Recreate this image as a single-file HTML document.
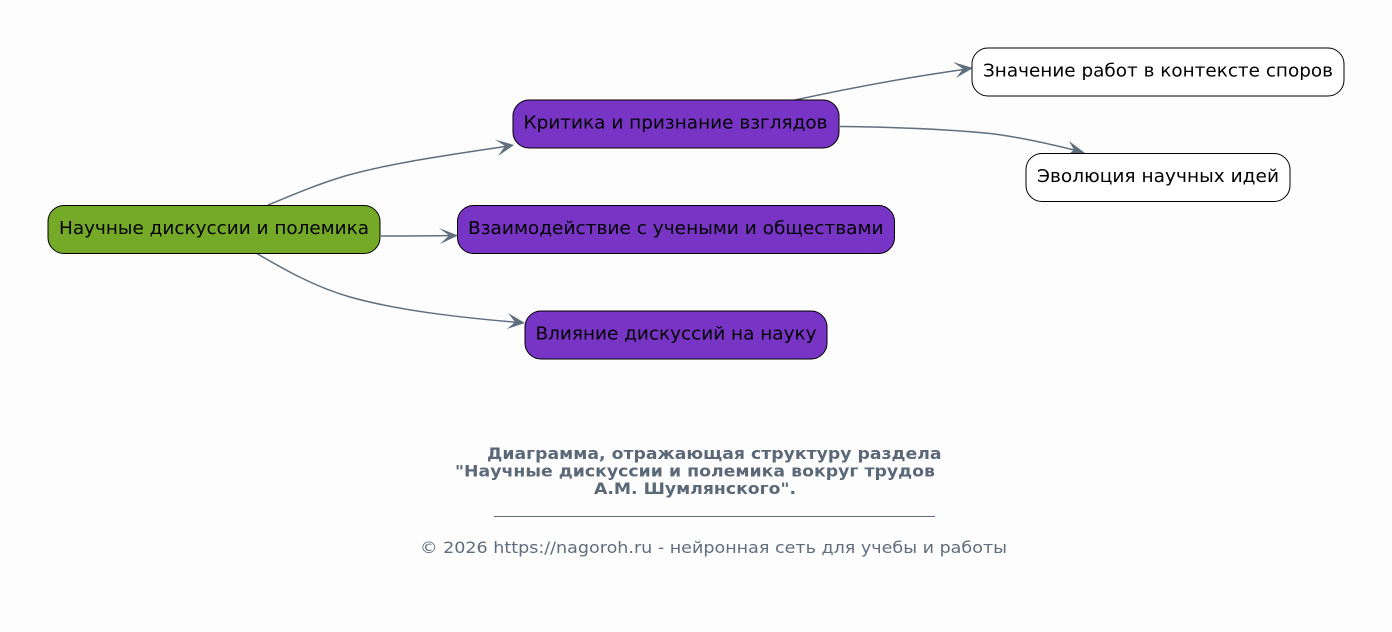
<!DOCTYPE html>
<html><head><meta charset="utf-8">
<style>
html,body{margin:0;padding:0;background:#fdfdfd}
svg{display:block}
.n{font-family:"DejaVu Sans",sans-serif;font-size:18px;fill:#000}
.t{font-family:"DejaVu Sans",sans-serif;font-size:16px;font-weight:bold;fill:#5a6878}
.f{font-family:"DejaVu Sans",sans-serif;font-size:16px;fill:#5f6d7c}
.e{fill:none;stroke:#5f6f7e;stroke-width:1.5}
.a{fill:#5f6f7e}
.b{stroke:#000;stroke-width:1}
</style></head><body>
<svg width="1392" height="632" viewBox="0 0 1392 632" xmlns="http://www.w3.org/2000/svg">
<rect width="1392" height="632" fill="#fdfdfd"/>
<path class="e" d="M268 205C290 196 315 185 345 176C390 163 450 155 508 146"/>
<path class="a" d="M514 145L495 139.500L505 146L498 156Z"/>
<path class="e" d="M381 236C405 236 430 236 452 235.500"/>
<path class="a" d="M458 235.500L439 228L449 235.500L440 244Z"/>
<path class="e" d="M256 253C285 270 315 287 350 297C400 311 465 318 519 322.500"/>
<path class="a" d="M525 323L508 313L515 322L507 329Z"/>
<path class="e" d="M795 100C850 88 910 77 967 69"/>
<path class="a" d="M973 68L953 62L963 69L956 78Z"/>
<path class="e" d="M840 126.500C890 127 945 129 990 133.500C1020 137 1050 144 1078 151"/>
<path class="a" d="M1085 153L1069 141L1074 150L1065 157Z"/>
<rect class="b" x="48" y="205.500" width="332" height="48" rx="16" fill="#75a928"/>
<rect class="b" x="513" y="100" width="326" height="48" rx="16" fill="#7834c4"/>
<rect class="b" x="457.500" y="205.500" width="437" height="48" rx="16" fill="#7834c4"/>
<rect class="b" x="525" y="311" width="302" height="48" rx="16" fill="#7834c4"/>
<rect class="b" x="972" y="48" width="372" height="48" rx="16" fill="#fff"/>
<rect class="b" x="1026" y="153.500" width="264" height="48" rx="16" fill="#fff"/>
<text class="n" x="59" y="234" textLength="310" lengthAdjust="spacingAndGlyphs">Научные дискуссии и полемика</text>
<text class="n" x="523.500" y="128.500" textLength="304" lengthAdjust="spacingAndGlyphs">Критика и признание взглядов</text>
<text class="n" x="468" y="234" textLength="415.500" lengthAdjust="spacingAndGlyphs">Взаимодействие с учеными и обществами</text>
<text class="n" x="535.500" y="339.500" textLength="281" lengthAdjust="spacingAndGlyphs">Влияние дискуссий на науку</text>
<text class="n" x="983" y="76.500" textLength="350" lengthAdjust="spacingAndGlyphs">Значение работ в контексте споров</text>
<text class="n" x="1037" y="182" textLength="242" lengthAdjust="spacingAndGlyphs">Эволюция научных идей</text>
<text class="t" x="487" y="459" textLength="454.500" lengthAdjust="spacingAndGlyphs">Диаграмма, отражающая структуру раздела</text>
<text class="t" x="455" y="476.500" textLength="480" lengthAdjust="spacingAndGlyphs">"Научные дискуссии и полемика вокруг трудов</text>
<text class="t" x="594" y="494" textLength="202" lengthAdjust="spacingAndGlyphs">А.М. Шумлянского".</text>
<rect x="494" y="516" width="441" height="1" fill="#5f6d7c"/>
<text class="f" x="420" y="553" textLength="587" lengthAdjust="spacingAndGlyphs">© 2026 https://nagoroh.ru - нейронная сеть для учебы и работы</text>
</svg>
</body></html>
